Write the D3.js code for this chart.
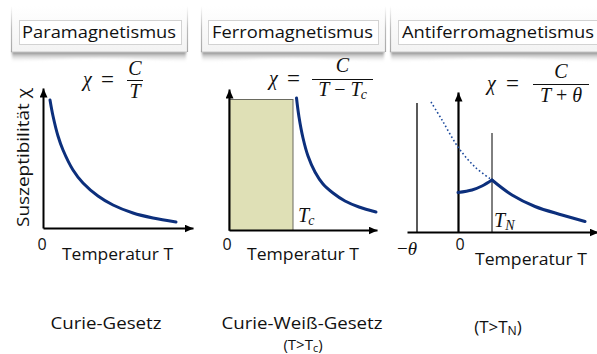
<!DOCTYPE html>
<html><head><meta charset="utf-8">
<script src="https://cdn.jsdelivr.net/npm/d3@7"></script>
<style>
html,body{margin:0;padding:0;background:#fff;}
svg{display:block;}
text{font-family:"Open Sans","Noto Sans",sans-serif;fill:#111;}
.math{font-family:"Liberation Serif","DejaVu Serif",serif;}
</style></head><body>
<svg id="chart" width="597" height="354"></svg>
<script>
// ---- texts ----
const panelTitles = ["Paramagnetismus", "Ferromagnetismus", "Antiferromagnetismus"];
const axisLabelX = "Temperatur T";
const axisLabelY = "Suszeptibilität χ";

// ---- curves (arbitrary units: T, χ) ----
// Curie law χ = C/T
const paraT   = [7, 10, 15, 20, 30, 40, 55, 70, 90, 110, 133];
const paraChi = [128, 112, 92, 78, 58, 45, 32, 23, 15, 10, 6];

// Curie-Weiss law above Tc
const ferroTc   = 64;
const ferroTop  = 131;
const ferroT    = [67.5, 70, 74, 79, 86, 94, 104, 116, 130, 147];
const ferroChi  = [132, 113, 92, 74, 58, 46, 37, 29, 23, 18];

// Antiferromagnet: θ, Néel temperature, curves
const afTheta   = 41;
const afTN      = 34;
const afThetaTop = 129;
const afTNTop    = 99;
const afDashT   = [-27, -16, 0, 17, 34];
const afDashChi = [130, 112, 85, 65, 52];
const afHighT   = [34, 54, 77, 104, 127];
const afHighChi = [52, 37, 25.5, 17, 10.5];
const afLowT    = [0, 14, 24, 34];
const afLowChi  = [39.5, 42, 46, 52];

const svg = d3.select("#chart");
const defs = svg.append("defs");

// arrow head for axes
defs.append("marker").attr("id", "arrow")
  .attr("markerUnits", "userSpaceOnUse")
  .attr("markerWidth", 10).attr("markerHeight", 8)
  .attr("refX", 9).attr("refY", 4).attr("orient", "auto")
  .append("path").attr("d", "M0,0L9,4L0,8Z").attr("fill", "#000");

const sg = defs.append("linearGradient").attr("id", "shadowGrad")
  .attr("x1", 0).attr("y1", 0).attr("x2", 0).attr("y2", 1);
sg.append("stop").attr("offset", 0).attr("stop-color", "#6e6e6e").attr("stop-opacity", 0.95);
sg.append("stop").attr("offset", 1).attr("stop-color", "#ffffff").attr("stop-opacity", 0);

const eg = defs.append("linearGradient").attr("id", "edgeGrad")
  .attr("gradientUnits", "userSpaceOnUse")
  .attr("x1", 0).attr("y1", 6).attr("x2", 0).attr("y2", 52);
eg.append("stop").attr("offset", 0).attr("stop-color", "#bbb").attr("stop-opacity", 0);
eg.append("stop").attr("offset", 0.5).attr("stop-color", "#bbb").attr("stop-opacity", 1);
eg.append("stop").attr("offset", 1).attr("stop-color", "#a8a8a8").attr("stop-opacity", 1);

const cg = defs.append("linearGradient").attr("id", "cardGrad")
  .attr("x1", 0).attr("y1", 0).attr("x2", 0).attr("y2", 1);
cg.append("stop").attr("offset", 0).attr("stop-color", "#ffffff");
cg.append("stop").attr("offset", 1).attr("stop-color", "#f3f3f3");

defs.append("filter").attr("id", "soft")
  .attr("x", "-5%").attr("y", "-50%").attr("width", "110%").attr("height", "200%")
  .append("feGaussianBlur").attr("stdDeviation", 1.2);

// ---- header cards ----
const cards = [
  {x0: 11, x1: 187, ix0: 19, ix1: 181, tx0: 22, tw: 154},
  {x0: 201, x1: 385, ix0: 208, ix1: 378, tx0: 212, tw: 161},
  {x0: 390, x1: 604, ix0: 398, ix1: 603, tx0: 402, tw: 192}
];
cards.forEach((c, i) => {
  const g = svg.append("g");
  const mid = (c.x0 + c.x1) / 2;
  g.append("path")
    .attr("d", `M${c.x0 + 1},51 L${c.x1 - 1},51 L${c.x1 - 1},63 Q${mid},53 ${c.x0 + 1},63 Z`)
    .attr("fill", "url(#shadowGrad)").attr("filter", "url(#soft)");
  g.append("rect").attr("x", c.x0).attr("y", 6).attr("width", c.x1 - c.x0).attr("height", 46)
    .attr("fill", "url(#cardGrad)");
  g.append("line").attr("x1", c.x0).attr("x2", c.x1).attr("y1", 52).attr("y2", 52)
    .attr("stroke", "#c4c4c4").attr("stroke-width", 1);
  [c.x0, c.x1].forEach(x => g.append("line")
    .attr("x1", x + 0.5).attr("x2", x + 0.5).attr("y1", 6).attr("y2", 52)
    .attr("stroke", "url(#edgeGrad)").attr("stroke-width", 1.2));
  g.append("rect").attr("x", c.ix0 + 0.5).attr("y", 20.5)
    .attr("width", c.ix1 - c.ix0).attr("height", 24)
    .attr("fill", "#fff").attr("stroke", "#d2d2d2").attr("stroke-width", 1);
  g.append("text").attr("x", c.tx0).attr("y", 38)
    .attr("font-size", 17).attr("textLength", c.tw).attr("lengthAdjust", "spacingAndGlyphs")
    .text(panelTitles[i]);
});

// ---- helpers ----
const curveColor = "#0c2f7c";
function drawAxes(g, x, y, xAt, yAt, width) {
  const ax = g.append("g").attr("transform", `translate(0,${y(xAt)})`)
    .call(d3.axisBottom(x).tickValues([]).tickSizeOuter(0));
  const ay = g.append("g").attr("transform", `translate(${x(yAt)},0)`)
    .call(d3.axisLeft(y).tickValues([]).tickSizeOuter(0));
  [ax, ay].forEach(a => a.select(".domain")
    .attr("stroke", "#000").attr("stroke-width", width).attr("marker-end", "url(#arrow)"));
}
function drawCurve(g, x, y, ts, vs, opts = {}) {
  const line = d3.line().x(d => x(d[0])).y(d => y(d[1])).curve(d3.curveCatmullRom.alpha(0.5));
  return g.append("path").datum(d3.zip(ts, vs)).attr("d", line)
    .attr("fill", "none").attr("stroke", opts.color || curveColor)
    .attr("stroke-width", opts.width || 3)
    .attr("stroke-dasharray", opts.dash || null)
    .attr("stroke-linecap", opts.cap || "round");
}
function mathText(g, x, y, size, parts, anchor) {
  const t = g.append("text").attr("class", "math").attr("x", x).attr("y", y)
    .attr("font-size", size).attr("text-anchor", anchor || "start");
  parts.forEach(p => {
    const s = t.append("tspan").text(p.t)
      .attr("font-style", p.up ? "normal" : "italic");
    if (p.sub) s.attr("font-size", size * 0.7).attr("dy", p.dy || 4);
    if (p.dx) s.attr("dx", p.dx);
  });
  return t;
}
function formula(g, f) {
  mathText(g, f.chiX, f.barY + 5, f.size, [{t: "χ"}]);
  mathText(g, f.eqX, f.barY + 6.5, f.size + 3, [{t: "=", up: true}]);
  g.append("line").attr("x1", f.b0).attr("x2", f.b1).attr("y1", f.barY).attr("y2", f.barY)
    .attr("stroke", "#111").attr("stroke-width", 1);
  const cx = (f.b0 + f.b1) / 2;
  mathText(g, cx, f.numY, f.size, [{t: "C"}], "middle");
  mathText(g, cx, f.denY, f.size, f.den, "middle");
}
function condition(g, x, y, size, sub) {
  const t = g.append("text").attr("x", x).attr("y", y).attr("font-size", size)
    .attr("text-anchor", "middle");
  t.append("tspan").text("(T>T");
  t.append("tspan").text(sub).attr("font-size", size * 0.72).attr("dy", 2);
  t.append("tspan").text(")").attr("dy", -2);
}

// ---- panel 1: paramagnetism ----
{
  const g = svg.append("g");
  const x = d3.scaleLinear().domain([0, 150]).range([43, 193]);
  const y = d3.scaleLinear().domain([0, 140]).range([228, 88]);
  drawAxes(g, x, y, 0, 0, 2);
  drawCurve(g, x, y, paraT, paraChi);
  g.append("text").attr("x", 42).attr("y", 250).attr("font-size", 16)
    .attr("text-anchor", "middle").text("0");
  g.append("text").attr("x", 62).attr("y", 260).attr("font-size", 17)
    .attr("textLength", 111).attr("lengthAdjust", "spacingAndGlyphs").text(axisLabelX);
  g.append("text").attr("transform", "translate(29,157.5) rotate(-90)")
    .attr("text-anchor", "middle").attr("font-size", 17)
    .attr("textLength", 139).attr("lengthAdjust", "spacingAndGlyphs").text(axisLabelY);
  formula(g, {chiX: 83, eqX: 101, b0: 127, b1: 143, barY: 80.5, numY: 75, denY: 98, size: 20,
    den: [{t: "T"}]});
  g.append("text").attr("x", 106).attr("y", 329).attr("font-size", 17)
    .attr("text-anchor", "middle").attr("textLength", 111).attr("lengthAdjust", "spacingAndGlyphs")
    .text("Curie-Gesetz");
}

// ---- panel 2: ferromagnetism ----
{
  const g = svg.append("g");
  const x = d3.scaleLinear().domain([0, 148]).range([229, 377]);
  const y = d3.scaleLinear().domain([0, 141]).range([230, 89]);
  g.append("rect").attr("x", x(0)).attr("y", y(ferroTop) + 0.5)
    .attr("width", x(ferroTc) - x(0)).attr("height", y(0) - y(ferroTop))
    .attr("fill", "#dfe0b6").attr("stroke", "#6a6a60").attr("stroke-width", 1);
  drawAxes(g, x, y, 0, 0, 2);
  drawCurve(g, x, y, ferroT, ferroChi);
  mathText(g, x(ferroTc) + 5, 222, 20, [{t: "T"}, {t: "c", sub: true, dy: 3, dx: -1}]);
  g.append("text").attr("x", 227).attr("y", 250).attr("font-size", 16)
    .attr("text-anchor", "middle").text("0");
  g.append("text").attr("x", 247).attr("y", 260).attr("font-size", 17)
    .attr("textLength", 112).attr("lengthAdjust", "spacingAndGlyphs").text(axisLabelX);
  formula(g, {chiX: 269, eqX: 287, b0: 312, b1: 373, barY: 79.5, numY: 72, denY: 96, size: 20,
    den: [{t: "T"}, {t: " − ", up: true}, {t: "T"}, {t: "c", sub: true, dy: 3, dx: -1}]});
  g.append("text").attr("x", 302).attr("y", 329).attr("font-size", 16)
    .attr("text-anchor", "middle").attr("textLength", 161).attr("lengthAdjust", "spacingAndGlyphs")
    .text("Curie-Weiß-Gesetz");
  condition(g, 303, 350, 15, "c");
}

// ---- panel 3: antiferromagnetism ----
{
  const g = svg.append("g");
  const x = d3.scaleLinear().domain([-51, 140]).range([407, 598]);
  const y = d3.scaleLinear().domain([0, 140]).range([232, 92]);
  g.append("line").attr("x1", x(-afTheta)).attr("x2", x(-afTheta))
    .attr("y1", y(0)).attr("y2", y(afThetaTop)).attr("stroke", "#000").attr("stroke-width", 1.3);
  g.append("line").attr("x1", x(afTN)).attr("x2", x(afTN))
    .attr("y1", y(0)).attr("y2", y(afTNTop)).attr("stroke", "#000").attr("stroke-width", 1);
  drawAxes(g, x, y, 0, 0, 2.2);
  drawCurve(g, x, y, afDashT, afDashChi, {width: 1.6, dash: "1.6,2.4", cap: "butt", color: "#1d4a9c"});
  drawCurve(g, x, y, afLowT, afLowChi);
  drawCurve(g, x, y, afHighT, afHighChi);
  mathText(g, x(afTN) + 2, 227, 20, [{t: "T"}, {t: "N", sub: true, dy: 3}]);
  mathText(g, 397, 255, 19, [{t: "−", up: true}, {t: "θ"}]);
  g.append("text").attr("x", x(0) + 2).attr("y", 250).attr("font-size", 16)
    .attr("text-anchor", "middle").text("0");
  g.append("text").attr("x", 475).attr("y", 265).attr("font-size", 17)
    .attr("textLength", 112).attr("lengthAdjust", "spacingAndGlyphs").text(axisLabelX);
  formula(g, {chiX: 487, eqX: 506, b0: 533, b1: 589, barY: 84.5, numY: 78, denY: 102, size: 20,
    den: [{t: "T"}, {t: " + ", up: true}, {t: "θ"}]});
  condition(g, 498, 333, 17, "N");
}
</script>
</body></html>
